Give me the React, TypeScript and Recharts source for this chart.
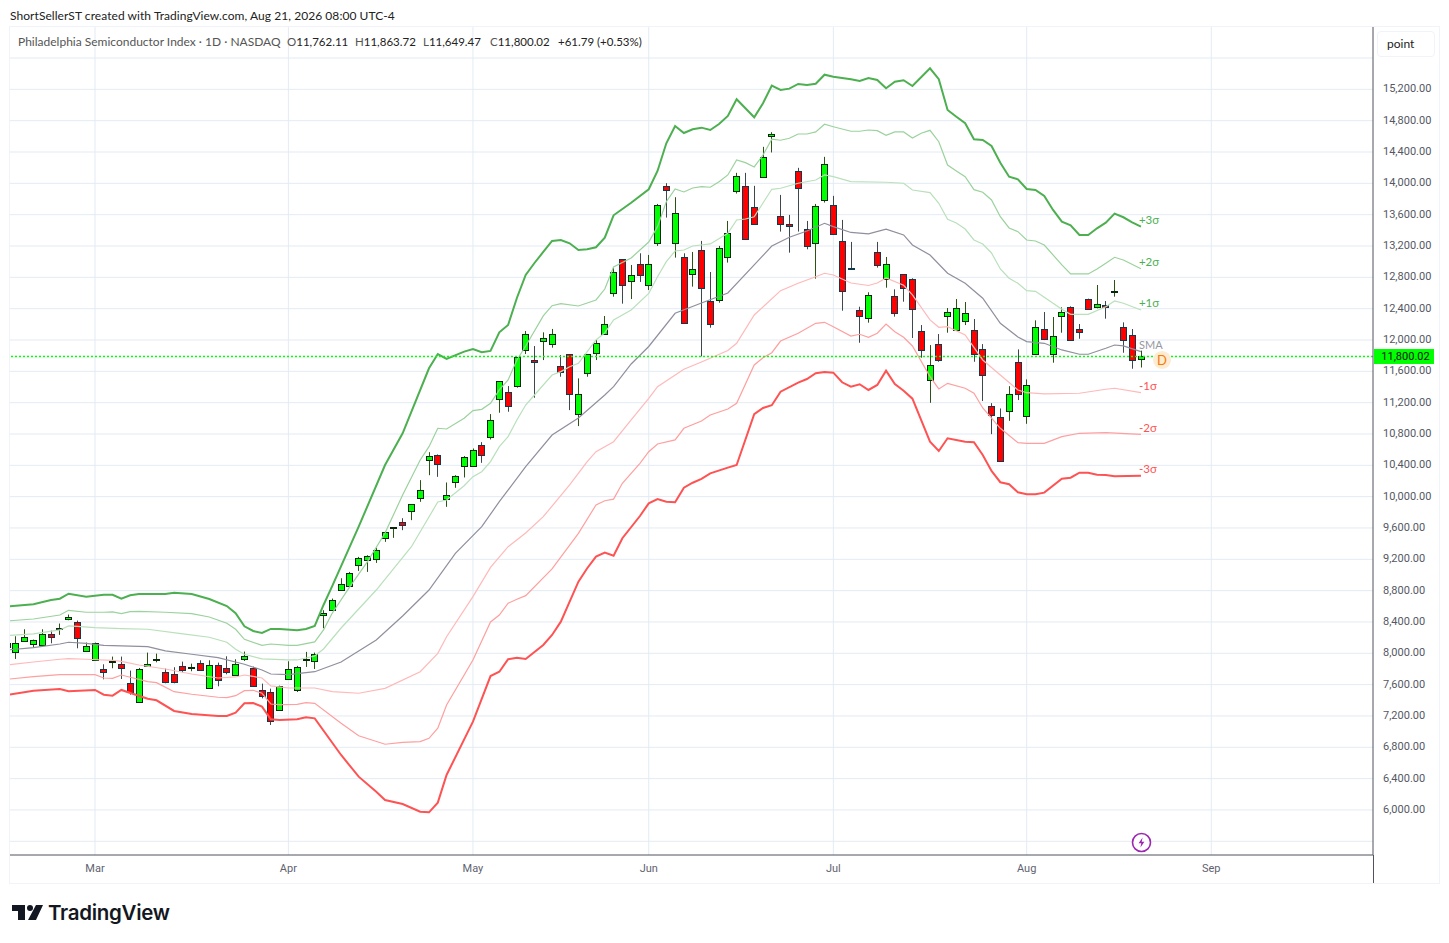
import { Bar, CartesianGrid, ComposedChart, Line, ReferenceDot, ReferenceLine, XAxis, YAxis } from 'recharts'

const FONT = 'Lato, "Noto Sans", sans-serif'
const AXIS_FONT = 'Roboto, sans-serif'

// trading days are numbered from the first whole candle on screen
const firstDay = -1
const opens = [8081,8018,8158,8120,8107,8252,8312,8439,8405,8035,7918,7805,7890,7868,7626,7383,7839,7915,7766,7741,7843,7822,7881,7562,7856,7817,7724,7928,7817,7536,7511,7280,7677,7536,7920,7902,8490,8554,8813,8864,9133,9184,9209,9474,9601,9674,9806,9972,10458,10526,9976,10193,10385,10385,10654,10756,11242,11331,11408,11868,11744,11979,11944,11663,11817,11045,11574,11829,12072,12609,13030,12749,12966,12698,13230,13963,13230,13056,12839,13145,12494,12506,13056,13899,13963,13695,14078,14602,13580,13478,14155,13414,13230,13784,13720,13260,12915,12379,12276,13120,12770,12557,12839,12775,12110,11484,11944,12302,12123,12238,12123,11880,11152,11011,11088,11714,11037,11829,12136,11816,12302,12417,12136,12519,12417,12442,12617,12161,12059,11762]
const highs = [8167,8218,8307,8175,8307,8290,8380,8495,8418,8137,8137,7860,7958,7958,7779,7813,8009,7996,7805,7822,7894,7868,7911,7911,7881,7962,7924,8022,7830,7613,7549,7587,7898,7839,8018,8009,8550,8699,8958,9039,9231,9252,9350,9560,9610,9725,9905,10211,10568,10539,10181,10274,10518,10615,10696,11054,11472,11412,11778,12115,11923,12098,12141,11808,11821,11510,11821,12000,12306,12932,13030,12958,13107,13086,13737,14002,13823,13107,13124,13265,12868,13201,13520,14134,14134,13968,14466,14653,13852,13597,14198,13520,13737,14338,13840,13533,13252,12425,12609,13252,13060,12647,12839,12788,12191,11935,12076,12408,12523,12485,12268,11948,11194,11126,11411,11880,11497,12251,12357,12293,12417,12430,12204,12528,12702,12498,12766,12225,12140,11864]
const lows = [8039,7928,8145,8073,8107,8128,8235,8422,8064,8018,7915,7668,7809,7672,7472,7370,7834,7885,7617,7617,7758,7771,7779,7557,7579,7732,7711,7902,7583,7425,7085,7276,7668,7506,7826,7800,8320,8550,8796,8848,9052,9039,9154,9423,9474,9572,9700,9934,10274,10253,9870,10113,10245,10381,10432,10730,11071,11084,11391,11821,11263,11744,11902,11531,11105,10901,11531,11744,12072,12553,12464,12523,12741,12638,13201,13563,13052,12212,12681,11791,12157,12476,12988,13870,13286,13478,14078,14394,13384,13115,13384,13158,12783,13755,13341,12374,12898,11965,12221,12924,12668,12298,12489,12025,11774,11198,11722,12093,12119,12191,11722,11220,10798,10449,10968,11233,10930,11829,11999,11710,12093,11991,12016,12391,12404,12272,12553,11837,11633,11649]
const closes = [8137,8137,8214,8175,8252,8209,8329,8469,8201,8098,8137,7762,7907,7813,7506,7805,7868,7924,7634,7634,7788,7830,7788,7856,7664,7762,7868,7971,7587,7460,7140,7587,7805,7830,7928,7996,8512,8686,8890,9026,9222,9239,9324,9555,9610,9640,9900,10079,10513,10411,10027,10270,10500,10590,10526,10973,11472,11152,11778,12072,11714,12021,12072,11587,11306,11305,11817,11957,12200,12873,12698,12826,12826,12966,13720,13912,13618,12212,12903,12660,12200,13171,13363,14091,13286,13478,14334,14628,13478,13452,13938,13196,13708,14244,13350,12621,12898,12302,12570,12954,12966,12340,12660,12391,11867,11676,11740,12353,12404,12340,11816,11548,11037,10449,11305,11305,11429,12170,12008,12046,12353,11999,12093,12391,12455,12417,12625,11995,11740,11800]

const plus3Days = [-1,2,4,5,6,8,10,11,12,13,14,17,18,20,22,24,25,26,27,28,29,30,32,33,34,35,36,39,42,44,47,48,49,51,52,53,54,55,56,57,58,59,60,61,62,63,64,65,66,67,68,70,72,73,74,75,76,77,78,79,80,81,82,83,84,85,86,87,88,89,90,91,92,93,95,96,97,98,99,100,101,102,104,105,106,107,108,109,110,111,112,113,114,115,116,117,118,119,120,121,122,123,124,125,126,127,128]
const plus3 = [8598,8626,8681,8697,8761,8723,8748,8748,8697,8741,8757,8757,8774,8757,8694,8604,8511,8345,8285,8260,8311,8311,8294,8311,8349,8617,8860,9617,10404,10809,11639,11821,11758,11851,11885,11843,11860,12098,12192,12536,12830,12983,13124,13264,13277,13235,13149,13158,13184,13306,13592,13753,13924,14158,14511,14732,14643,14690,14711,14681,14758,14860,15073,14958,14843,15022,15247,15192,15209,15269,15256,15272,15387,15362,15329,15307,15345,15320,15214,15298,15316,15243,15469,15329,14937,14851,14767,14563,14554,14477,14264,14085,14052,13928,13915,13839,13660,13511,13465,13341,13341,13426,13498,13613,13567,13503,13447]
const plus2Days = [-1,2,5,6,8,10,11,12,13,14,17,20,22,24,25,26,28,29,31,32,34,35,36,38,40,42,44,46,47,48,49,51,52,53,54,55,56,57,58,60,61,62,64,66,67,68,70,72,73,74,75,76,77,78,79,80,81,82,83,84,85,86,87,88,89,90,91,92,93,95,96,97,98,99,100,101,102,103,104,105,106,107,108,109,110,111,112,113,114,115,116,117,119,120,121,122,123,124,125,126,128]
const plus2 = [8413,8438,8489,8549,8524,8524,8528,8506,8531,8536,8524,8506,8464,8383,8307,8179,8102,8119,8102,8102,8145,8298,8515,8851,9170,9536,10021,10468,10638,10873,10864,11000,11098,11115,11192,11362,11490,11745,11924,12307,12438,12464,12434,12511,12651,12932,13047,13251,13447,13766,13928,13890,13941,13957,13950,14021,14107,14298,14264,14209,14362,14563,14550,14575,14630,14630,14656,14754,14723,14665,14665,14681,14672,14614,14656,14656,14579,14639,14677,14532,14234,14158,14085,13919,13886,13788,13574,13430,13383,13277,13264,13213,12958,12843,12843,12843,12907,12979,13056,13022,12910]
const plus1Days = [-1,2,5,6,7,9,12,15,19,22,24,25,26,28,31,32,34,35,37,41,45,48,49,51,52,53,54,55,56,57,58,59,61,62,63,64,65,66,67,68,70,72,73,74,75,76,77,79,81,82,83,84,85,86,87,89,91,92,93,95,99,101,102,104,105,106,107,108,109,110,111,112,113,114,115,116,117,119,120,122,124,125,126,128]
const plus1 = [8228,8247,8298,8349,8345,8327,8315,8307,8247,8205,8141,8051,7988,7928,7915,7915,7966,8055,8323,8808,9361,9932,9957,10140,10255,10319,10447,10638,10766,10979,11170,11298,11553,11596,11659,11703,11851,12000,12090,12256,12383,12596,12808,13000,13136,13149,13200,13226,13362,13532,13545,13574,13749,13924,13937,14001,14043,14107,14085,14021,14014,14001,13915,13881,13745,13541,13494,13417,13277,13226,13111,12907,12788,12724,12630,12622,12545,12392,12328,12328,12425,12498,12469,12383]
const smaDays = [-1,2,5,6,8,10,12,15,17,20,23,26,28,29,31,34,37,41,44,47,50,53,55,58,61,64,67,68,70,72,75,78,81,84,86,88,90,92,93,95,97,99,101,102,104,106,108,110,112,114,115,117,119,121,122,124,125,126,128]
const sma = [8042,8072,8119,8141,8128,8102,8094,8085,8030,7988,7944,7860,7787,7736,7727,7765,7889,8170,8477,8808,9275,9617,9936,10383,10787,11004,11298,11404,11694,11917,12341,12473,12600,12958,13200,13311,13392,13490,13447,13373,13354,13414,13341,13213,13085,12852,12724,12533,12213,12039,11979,11958,11873,11818,11818,11894,11936,11924,11851]
const minus1Days = [-1,2,5,6,8,11,12,14,17,20,23,25,26,28,29,31,34,36,39,42,46,48,49,52,54,56,58,60,63,65,66,68,70,72,73,76,78,81,82,84,87,89,91,92,93,95,97,98,99,101,102,104,105,106,108,110,112,114,115,117,121,124,125,128]
const minus1 = [7851,7889,7924,7931,7924,7911,7898,7851,7800,7736,7685,7698,7723,7685,7583,7557,7557,7510,7490,7553,7765,8000,8212,8723,9096,9361,9536,9744,10149,10447,10574,10702,10979,11256,11404,11626,11719,11866,11958,12319,12630,12724,12808,12852,12830,12728,12696,12728,12792,12699,12575,12256,12162,12170,12064,11745,11553,11362,11327,11311,11320,11371,11384,11327]
const minus2Days = [-1,2,5,9,10,11,12,15,16,18,20,23,24,25,26,27,28,29,30,32,33,34,37,39,42,44,46,47,48,49,52,54,55,56,57,58,61,64,66,67,68,69,71,72,73,75,76,78,79,81,82,84,85,86,87,89,91,92,93,95,96,97,98,99,100,101,102,104,105,106,108,109,110,112,114,115,117,119,121,124,128]
const minus2 = [7668,7702,7727,7727,7685,7681,7723,7638,7625,7510,7477,7439,7434,7459,7523,7528,7490,7353,7344,7349,7370,7362,7107,6948,6839,6864,6872,6915,7043,7340,7915,8400,8489,8639,8690,8736,9077,9532,9894,9948,9968,10171,10426,10574,10672,10724,10873,10966,11043,11119,11192,11681,11774,11838,11987,12086,12213,12226,12170,12051,12073,12035,12086,12204,12106,12035,11924,11532,11375,11447,11384,11320,11132,10873,10689,10681,10681,10766,10809,10817,10796]
const minus3Days = [-1,2,5,6,9,10,11,12,15,16,18,20,23,24,25,26,27,28,29,30,32,33,34,37,39,41,42,44,46,47,48,49,52,54,55,56,57,58,60,61,62,64,65,66,67,68,69,71,72,73,74,75,76,77,78,79,81,82,84,85,86,87,89,90,91,92,93,94,95,96,97,98,99,100,101,102,104,105,106,108,109,110,111,112,113,114,115,116,117,119,120,121,122,123,124,125,128]
const minus3 = [7468,7523,7545,7515,7532,7472,7459,7532,7421,7400,7264,7225,7200,7200,7242,7362,7366,7319,7158,7149,7158,7183,7170,6702,6425,6233,6127,6076,5978,5970,6093,6447,7127,7710,7765,7924,7944,7928,8106,8234,8404,8914,9086,9234,9285,9246,9469,9753,9915,9970,9936,9928,10115,10178,10226,10298,10370,10404,11052,11132,11167,11340,11455,11502,11575,11592,11583,11460,11404,11435,11362,11426,11608,11438,11353,11251,10702,10583,10745,10702,10694,10532,10328,10184,10158,10056,10030,10030,10051,10229,10242,10306,10306,10281,10277,10260,10268]

const monthDays = [9, 31, 52, 72, 93, 115, 136]
const monthLabels = ['Mar', 'Apr', 'May', 'Jun', 'Jul', 'Aug', 'Sep']
const priceTicks = [5600,6000,6400,6800,7200,7600,8000,8400,8800,9200,9600,10000,10400,10800,11200,11600,12000,12400,12800,13200,13600,14000,14400,14800,15200,15600]

const priceLineLevel = 11790

const BANDS = [
  { key: 'plus3', days: plus3Days, values: plus3, stroke: '#4caf50', width: 2 },
  { key: 'plus2', days: plus2Days, values: plus2, stroke: '#9bd29d', width: 1.2 },
  { key: 'plus1', days: plus1Days, values: plus1, stroke: '#b9e0bb', width: 1.2 },
  { key: 'sma', days: smaDays, values: sma, stroke: '#8f8f9e', width: 1.2 },
  { key: 'minus1', days: minus1Days, values: minus1, stroke: '#ffb9b9', width: 1.2 },
  { key: 'minus2', days: minus2Days, values: minus2, stroke: '#ff9f9f', width: 1.2 },
  { key: 'minus3', days: minus3Days, values: minus3, stroke: '#ff5252', width: 2 },
]

const BAND_LABELS = [
  { text: '+3σ', price: 13532, color: '#4caf50' },
  { text: '+2σ', price: 13000, color: '#4caf50' },
  { text: '+1σ', price: 12473, color: '#4caf50' },
  { text: 'SMA', price: 11936, color: '#9598a1' },
  { text: '-1σ', price: 11413, color: '#ff5252' },
  { text: '-2σ', price: 10877, color: '#ff5252' },
  { text: '-3σ', price: 10353, color: '#ff5252' },
]

const rows = opens.map((open, i) => {
  const day = firstDay + i
  const row: Record<string, any> = { day, open, high: highs[i], low: lows[i], close: closes[i], range: [lows[i], highs[i]] }
  BANDS.forEach(b => {
    const at = b.days.indexOf(day)
    if (at >= 0) row[b.key] = b.values[at]
  })
  return row
})

function Candle(props: any) {
  const { x, y, width, height, payload } = props
  const { open, high, low, close } = payload
  const perUnit = height / (high - low)
  const up = close >= open
  const cx = Math.floor(x + width / 2) + 0.5
  const top = y + (high - Math.max(open, close)) * perUnit
  const bottom = y + (high - Math.min(open, close)) * perUnit
  const bodyTop = Math.round(top) + 0.5
  const bodyHeight = Math.max(1, Math.round(bottom - top))
  return (
    <g>
      <line x1={cx} x2={cx} y1={y} y2={y + height} stroke={up ? '#2b5314' : '#3d474c'} strokeWidth={1} />
      <rect x={cx - 3} y={bodyTop} width={6} height={bodyHeight} fill={up ? '#00ff00' : '#ff0000'} stroke={up ? '#06280a' : '#0e3a4c'} strokeWidth={1} />
    </g>
  )
}

function priceText(v: number) {
  if (v < 6000 || v > 15200) return ''
  return v.toLocaleString('en-US', { minimumFractionDigits: 2, maximumFractionDigits: 2 })
}

function abs(left: number, top: number, extra: object = {}) {
  return { position: 'absolute' as const, left, top, whiteSpace: 'nowrap' as const, ...extra }
}

const legendParts = [
  { left: 287, label: 'O', value: '11,762.11' },
  { left: 355, label: 'H', value: '11,863.72' },
  { left: 423, label: 'L', value: '11,649.47' },
  { left: 490, label: 'C', value: '11,800.02' },
]

export default function App() {
  return (
    <div style={{ position: 'absolute', left: 0, top: 0, width: 1449, height: 943, background: '#fff', overflow: 'hidden', fontFamily: FONT }}>
      <div style={abs(10, 8, { fontSize: 12, color: '#222', lineHeight: '15px', letterSpacing: 0.06 })}>ShortSellerST created with TradingView.com, Aug 21, 2026 08:00 UTC-4</div>
      <div style={{ position: 'absolute', left: 9, top: 26, width: 1429, height: 856, border: '1px solid #f0f3fa' }} />

      <div style={{ position: 'absolute', left: 0, top: 0 }}>
        <ComposedChart width={1449} height={943} data={rows} margin={{ top: 27, right: 9, bottom: 60, left: 10 }}>
          <CartesianGrid stroke="#e3ebf3" strokeWidth={1} syncWithTicks />
          <XAxis
            dataKey="day"
            type="number"
            domain={[-0.67, 154.4]}
            allowDataOverflow
            ticks={monthDays}
            interval={0}
            tickFormatter={(v: number) => monthLabels[monthDays.indexOf(v)]}
            tick={{ fill: '#5f6270', fontSize: 11, fontFamily: AXIS_FONT }}
            tickLine={false}
            axisLine={{ stroke: '#50535e' }}
            height={28}
            tickMargin={3}
          />
          <YAxis
            orientation="right"
            type="number"
            domain={[5425, 15996]}
            ticks={priceTicks}
            interval={0}
            tickFormatter={priceText}
            tick={{ fill: '#555863', fontSize: 11, fontFamily: AXIS_FONT, dy: -1 }}
            tickLine={false}
            axisLine={{ stroke: '#50535e' }}
            width={67}
            tickMargin={4}
          />
          {BANDS.map(b => (
            <Line key={b.key} dataKey={b.key} type="linear" stroke={b.stroke} strokeWidth={b.width} dot={false} activeDot={false} connectNulls isAnimationActive={false} />
          ))}
          <ReferenceLine y={priceLineLevel} stroke="#00ff00" strokeWidth={1.5} strokeDasharray="2 2" />
          <Bar dataKey="range" barSize={7} shape={Candle} isAnimationActive={false} />
          {BAND_LABELS.map(l => (
            <ReferenceDot key={l.text} x={128} y={l.price} r={0} stroke="none" label={{ value: l.text, position: 'right', offset: -2, fill: l.color, fontSize: l.text === 'SMA' ? 11 : 11.5, fontFamily: FONT }} />
          ))}
          <ReferenceDot x={130.4} y={11745} r={9} fill="#fdebd3" stroke="none" label={{ value: 'D', position: 'center', fill: '#f57c00', fontSize: 13, fontFamily: FONT }} />
        </ComposedChart>
      </div>

      <div style={{ position: 'absolute', left: 1373, top: 855, width: 1, height: 28, background: '#50535e' }} />

      <div style={abs(18, 34, { fontSize: 12, color: '#555', lineHeight: '16px' })}>Philadelphia Semiconductor Index · 1D · NASDAQ</div>
      {legendParts.map(p => (
        <div key={p.label} style={abs(p.left, 34, { fontSize: 11.5, color: '#222', lineHeight: '16px' })}>
          <span style={{ color: '#555' }}>{p.label}</span>{p.value}
        </div>
      ))}
      <div style={abs(558, 34, { fontSize: 11.5, color: '#222', lineHeight: '16px' })}>+61.79 (+0.53%)</div>

      <div style={{ ...abs(1377, 31), width: 58, height: 26, boxSizing: 'border-box', border: '1px solid #f0f3fa', borderRadius: 4, fontSize: 12, lineHeight: '24px', color: '#222', paddingLeft: 9 }}>point</div>
      <div style={{ ...abs(1374, 349), width: 60, height: 15, boxSizing: 'border-box', paddingLeft: 3, background: '#00ff00', color: '#111', fontSize: 11, fontFamily: AXIS_FONT, lineHeight: '15px', textAlign: 'center' }}>11,800.02</div>

      <svg style={abs(1131, 832)} width={21} height={21}>
        <circle cx={10.5} cy={10.5} r={9} fill="#fff" stroke="#9c27b0" strokeWidth={1.6} />
        <path d="M11.6 5.5 L7.6 11.3 L10.3 11.3 L9.4 15.5 L13.4 9.7 L10.7 9.7 Z" fill="#9c27b0" />
      </svg>

      <svg style={abs(12, 904)} width={32} height={18}>
        <path d="M0 1 H13 V16 H6 V7 H0 Z" fill="#131722" />
        <circle cx={18} cy={4} r={3} fill="#131722" />
        <path d="M24 1 H31 L24 16 H16 Z" fill="#131722" />
      </svg>
      <div style={abs(48, 899, { fontFamily: 'Inter, sans-serif', fontWeight: 600, fontSize: 20.5, color: '#131722', lineHeight: '27px', letterSpacing: -0.3 })}>TradingView</div>
    </div>
  )
}
